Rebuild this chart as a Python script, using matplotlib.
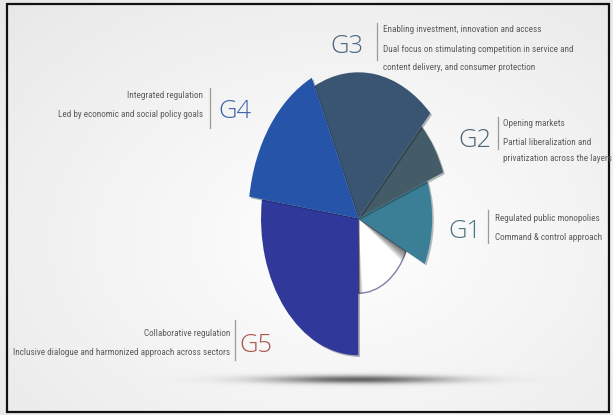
import numpy as np
import matplotlib
matplotlib.use("Agg")
import matplotlib.pyplot as plt
import matplotlib.patheffects as pe
from matplotlib import font_manager as fm
from matplotlib.patches import Rectangle

# ---------------- data ----------------
sectors = ["blank", "G1", "G2", "G3", "G4", "G5"]
start_deg = [-90, -26, 21, 46, 115, 172]
span_deg = [64, 47, 25, 69, 57, 98]
radius = [75, 104, 128, 146, 155, 137]
sector_colors = ["#ffffff", "#3a7f95", "#435c68", "#3a5571", "#2554a8", "#30399a"]
draw_order = [1, 2, 3, 4, 6, 5]

labels = ["G1", "G2", "G3", "G4", "G5"]
label_colors = ["#4f7381", "#4e6676", "#4d6581", "#4164a8", "#aa564e"]
label_lines = [
    ["Regulated public monopolies", "Command & control approach"],
    ["Opening markets", "Partial liberalization and", "privatization across the layers"],
    ["Enabling investment, innovation and access",
     "Dual focus on stimulating competition in service and",
     "content delivery, and consumer protection"],
    ["Integrated regulation", "Led by economic and social policy goals"],
    ["Collaborative regulation", "Inclusive dialogue and harmonized approach across sectors"],
]

# ---------------- fonts ----------------
ttf = fm.fontManager.ttflist
names = {f.name for f in ttf}


def pick_condensed():
    prefs = ["Roboto Condensed", "Liberation Sans Narrow", "Open Sans Condensed",
             "DejaVu Sans Condensed", "Noto Sans Condensed"]
    for p in prefs:
        if p in names:
            return fm.FontProperties(family=p)
    for f in ttf:
        if f.stretch in ("condensed", "semi-condensed", "extra-condensed") and f.style == "normal" \
                and "Mono" not in f.name and "Serif" not in f.name:
            return fm.FontProperties(fname=f.fname)
    for p in ["Roboto", "Liberation Sans", "DejaVu Sans"]:
        if p in names:
            return fm.FontProperties(family=p)
    return fm.FontProperties()


small_fp = pick_condensed()
big_family = [f for f in ["Open Sans", "Roboto", "Lato", "DejaVu Sans"] if f in names][0]
big_weight = "light"

W, H = 613, 415
fig = plt.figure(figsize=(W / 100, H / 100), dpi=100)
fig.patch.set_facecolor("white")

bg = fig.add_axes([0, 0, 1, 1], zorder=0)
bg.set_xlim(0, W)
bg.set_ylim(H, 0)
bg.set_axis_off()

yy, xx = np.mgrid[0:H, 0:W]
r = np.sqrt(((xx - 340) / 420.0) ** 2 + ((yy - 240) / 300.0) ** 2)
g = 1.0 - 0.08 * np.clip(r, 0, 1.2)
bg.imshow(np.dstack([g, g, g]), extent=(0, W, H, 0), zorder=0, aspect="auto")

gs = np.exp(-(((xx - 358) / 90.0) ** 2) - (((yy - 379) / 4.0) ** 2))
sh = np.zeros((H, W, 4))
sh[..., 0] = sh[..., 1] = sh[..., 2] = 0.2
sh[..., 3] = 0.75 * gs
bg.imshow(sh, extent=(0, W, H, 0), zorder=1, aspect="auto")

bg.add_patch(Rectangle((7, 4), 602, 408, fill=False, edgecolor="#111111", lw=1.6, zorder=5))

# ---------------- polar chart ----------------
cx, cy = 358.3, 218.3
f = 0.71
Rmax = 160.0
left = cx - Rmax * f
bottom = H - cy - Rmax
ax = fig.add_axes([left / W, bottom / H, 2 * Rmax * f / W, 2 * Rmax / H],
                  projection="polar", zorder=2)
ax.set_aspect("auto")
ax.set_ylim(0, Rmax)
ax.set_axis_off()
ax.patch.set_alpha(0)

for z, i in enumerate(draw_order):
    i0 = i - 1
    if i0 == 0:
        ax.bar(np.deg2rad(start_deg[0]), radius[0], width=np.deg2rad(span_deg[0]),
               bottom=0, align="edge", color="white", edgecolor="#8080a4",
               linewidth=1.0, zorder=2)
        top = start_deg[0] + span_deg[0]
        for k in range(10):
            ax.bar(np.deg2rad(top), radius[0], width=-np.deg2rad(0.9 * (k + 1)),
                   bottom=0, align="edge", color="black", alpha=0.07, linewidth=0, zorder=2.1)
            ax.bar(np.deg2rad(start_deg[0]), radius[0], width=np.deg2rad(0.5 * (k + 1)),
                   bottom=0, align="edge", color="black", alpha=0.05, linewidth=0, zorder=2.1)
        continue
    bars = ax.bar(np.deg2rad(start_deg[i0]), radius[i0], width=np.deg2rad(span_deg[i0]),
                  bottom=0, align="edge", color=sector_colors[i0], edgecolor="none",
                  linewidth=0, zorder=3 + z)
    for b in bars:
        b.set_path_effects([pe.SimplePatchShadow(offset=(1.2, -1.2), alpha=0.3), pe.Normal()])

# ---------------- labels ----------------
txt_c = "#5c5c5c"
layout = {
    "G1": (448, 238, 488, 210, 243, 495, [221, 240], "left"),
    "G2": (458, 147, 498, 117, 149, 503, [126, 145, 161], "left"),
    "G3": (330, 53, 377, 23, 60, 383, [32, 52, 69.5], "left"),
    "G4": (218, 118, 210, 88, 128, 203, [98, 117], "right"),
    "G5": (239, 352, 235, 320, 360, 230, [336, 355], "right"),
}

renderer = fig.canvas.get_renderer()
probe = bg.text(0, 0, "Dual focus on stimulating competition in service and",
                fontproperties=small_fp, fontsize=10)
w10 = probe.get_window_extent(renderer).width
probe.remove()
small = 10 * 188.0 / w10
probe = bg.text(0, 0, "G3", family=big_family, fontweight=big_weight, fontsize=20)
wb = probe.get_window_extent(renderer).width
probe.remove()
big = min(20 * 33.0 / wb, 23)

for k, lab in enumerate(labels):
    gx, gb, sx, s0, s1, tx, bls, ha = layout[lab]
    bg.text(gx, gb, lab, fontsize=big, color=label_colors[k], family=big_family,
            fontweight=big_weight, ha="left", va="baseline", zorder=6)
    bg.plot([sx, sx], [s0, s1], color="#9a9a9a", lw=0.9, zorder=6)
    for line, bl in zip(label_lines[k], bls):
        bg.text(tx, bl, line, fontproperties=small_fp, fontsize=small, color=txt_c,
                ha=ha, va="baseline", zorder=6)

fig.savefig("out.png", dpi=100)
